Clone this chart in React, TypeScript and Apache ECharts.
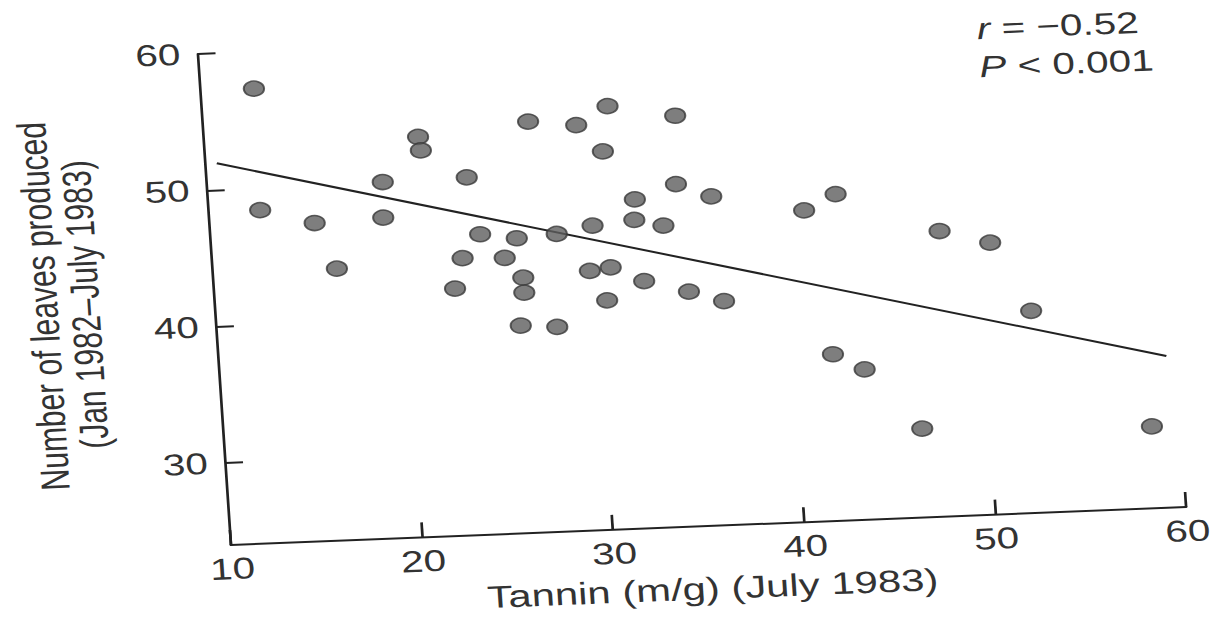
import React, { useEffect, useRef } from "react";
import * as echarts from "echarts";

// Tannin (m/g) values, July 1983
const tanninX = [
  12.8, 12.7, 15.5, 16.5, 19.2, 19.1, 21.2, 21.3, 23.6, 24.1, 23.1, 22.6, 27.0,
  29.5, 31.2, 34.7, 30.8, 34.5, 36.3, 32.3, 32.2, 33.7, 30.0, 28.1, 26.0, 25.3,
  26.2, 26.2, 29.7, 30.8, 32.5, 34.8, 36.6, 30.5, 25.9, 27.8, 41.1, 42.8, 48.1,
  50.7, 52.6, 42.1, 43.7, 46.5, 58.5,
];
// Number of leaves produced (Jan 1982–July 1983)
const leavesY = [
  57.3, 48.4, 47.3, 43.9, 50.1, 47.5, 53.3, 52.3, 50.2, 46.0, 44.3, 42.1, 54.1,
  53.7, 55.0, 54.1, 51.7, 49.1, 48.1, 48.1, 46.6, 46.1, 46.3, 45.8, 45.6, 44.2,
  42.7, 41.6, 43.0, 43.2, 42.1, 41.2, 40.4, 40.8, 39.2, 39.0, 46.8, 47.9, 44.9,
  43.9, 38.8, 36.2, 35.0, 30.5, 30.0,
];
// Regression line end points
const fitX = [10.6, 59.5];
const fitY = [51.95, 35.1];

const xTicks = [10, 20, 30, 40, 50, 60];
const yTicks = [30, 40, 50, 60];
const statR = "−0.52";
const statP = "0.001";

const FONT = "'Liberation Sans', Arial, Helvetica, sans-serif";

export default function App() {
  const ref = useRef<HTMLDivElement>(null);

  useEffect(() => {
    if (!ref.current) return;
    const chart = echarts.init(ref.current, undefined, { renderer: "svg" });
    const points = tanninX.map((x, i) => [x, leavesY[i]]);
    const fit = fitX.map((x, i) => [x, fitY[i]]);
    chart.setOption({
      animation: false,
      backgroundColor: "#ffffff",
      grid: { left: 231, top: 54, width: 708, height: 491, containLabel: false },
      xAxis: {
        type: "value",
        min: xTicks[0],
        max: xTicks[xTicks.length - 1],
        interval: 10,
        name: "Tannin (m/g) (July 1983)",
        nameLocation: "middle",
        nameGap: 47,
        nameTextStyle: { fontSize: 31, color: "#333", fontFamily: FONT },
        axisLine: { show: true, lineStyle: { color: "#222", width: 2 } },
        axisTick: { show: true, inside: true, length: 15, lineStyle: { color: "#222", width: 2 } },
        axisLabel: { fontSize: 30, color: "#333", margin: 9, fontFamily: FONT },
        splitLine: { show: false },
      },
      yAxis: {
        type: "value",
        min: 24,
        max: 60,
        name: "Number of leaves produced\n(Jan 1982–July 1983)",
        nameLocation: "middle",
        nameGap: 80,
        nameTextStyle: { fontSize: 30, lineHeight: 31, color: "#333", fontFamily: FONT },
        axisLine: { show: true, lineStyle: { color: "#222", width: 2 } },
        axisTick: {
          show: true,
          inside: true,
          length: 13,
          customValues: yTicks,
          lineStyle: { color: "#222", width: 2 },
        },
        axisLabel: {
          fontSize: 30,
          color: "#333",
          margin: 13,
          fontFamily: FONT,
          customValues: yTicks,
        },
        splitLine: { show: false },
      },
      graphic: [
        {
          type: "text",
          left: 808,
          top: 45,
          style: {
            text: "{i|r} = " + statR,
            fontSize: 30,
            fill: "#333",
            fontFamily: FONT,
            rich: { i: { fontStyle: "italic", fontSize: 30, fontFamily: FONT, fill: "#333" } },
          },
        },
        {
          type: "text",
          left: 808,
          top: 83,
          style: {
            text: "{i|P} < " + statP,
            fontSize: 30,
            fill: "#333",
            fontFamily: FONT,
            rich: { i: { fontStyle: "italic", fontSize: 30, fontFamily: FONT, fill: "#333" } },
          },
        },
      ],
      series: [
        {
          type: "line",
          data: fit,
          symbol: "none",
          lineStyle: { color: "#222", width: 2 },
          z: 2,
        },
        {
          type: "scatter",
          data: points,
          symbol: "circle",
          symbolSize: 15,
          itemStyle: { color: "#5e5e5e", borderColor: "#383838", borderWidth: 1.5 },
          z: 3,
        },
      ],
    });
    return () => chart.dispose();
  }, []);

  return (
    <div
      style={{
        position: "fixed",
        left: 0,
        top: 0,
        width: 1216,
        height: 618,
        overflow: "hidden",
        background: "#fff",
      }}
    >
      <div
        ref={ref}
        style={{
          position: "absolute",
          left: 0,
          top: 0,
          width: 1000,
          height: 640,
          transformOrigin: "231px 545px",
          transform: "matrix(1.349, -0.0536, 0.0673, 1, 0, 0)",
        }}
      />
    </div>
  );
}
